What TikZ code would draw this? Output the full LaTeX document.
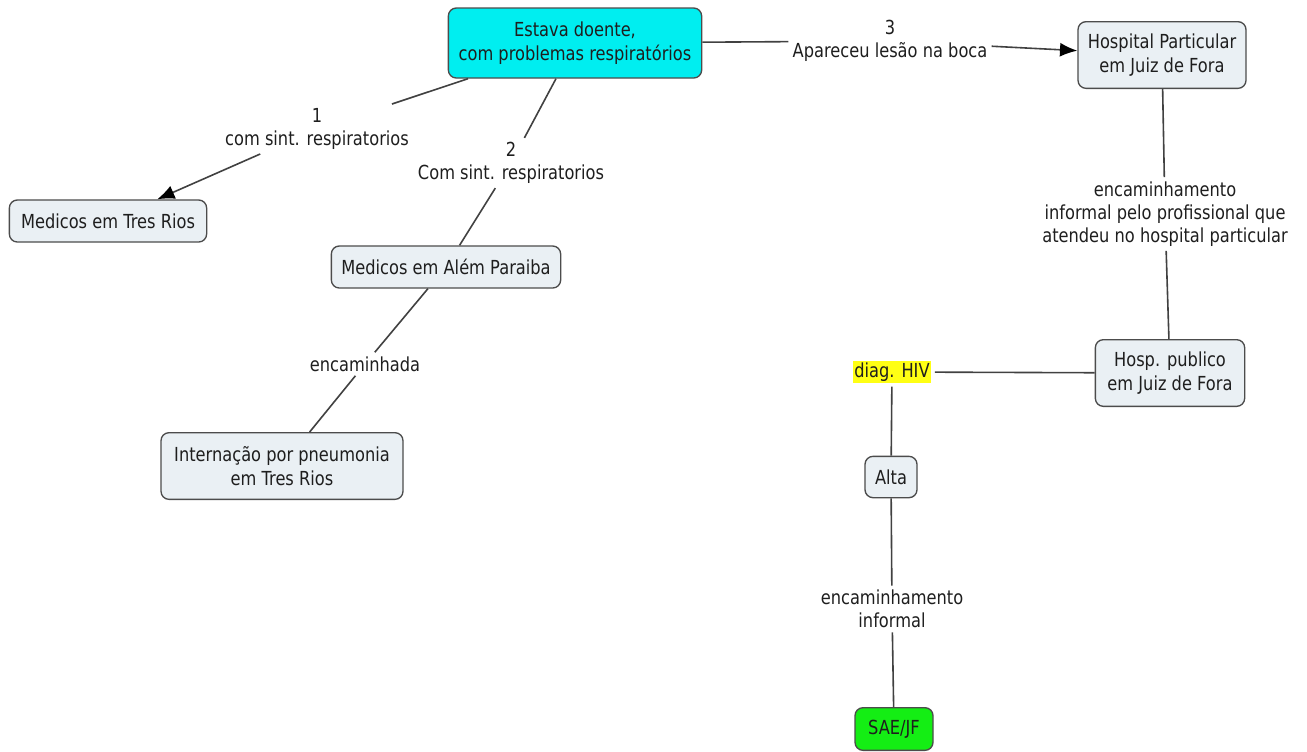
\documentclass[tikz,border=0pt]{standalone}
\usepackage{fontspec}
\setmainfont{DejaVu Sans}[FakeStretch=0.84]
\usetikzlibrary{arrows.meta}
\definecolor{boxfill}{RGB}{234,240,244}
\definecolor{rootfill}{RGB}{0,238,240}
\definecolor{saefill}{RGB}{20,238,20}
\definecolor{hivmark}{RGB}{255,255,20}
\definecolor{linkgray}{RGB}{65,65,65}
\definecolor{ink}{RGB}{30,30,30}

\begin{document}
\begin{tikzpicture}[x=0.75pt,y=-0.75pt,
  font=\fontsize{14.5}{17.5}\selectfont,
  box/.style={draw=black!70, line width=1pt, rounded corners=6pt, fill=boxfill,
    align=center, inner xsep=3pt, inner ysep=3pt, minimum height=31.5pt, text=ink},
  twoline/.style={minimum height=50pt},
  lbl/.style={align=center, inner sep=3pt, text=ink},
  link/.style={draw=linkgray, line width=1.2pt},
  arr/.style={link, -{Latex[length=13pt,width=10.5pt,color=black]}}]

\useasboundingbox (0,0) rectangle (1307,751);

% concept boxes
\node[box, twoline, fill=rootfill, minimum width=190pt, minimum height=52.5pt] (doente) at (575,43)
  {Estava doente,\\com problemas respiratórios};
\node[box, minimum width=148pt] (tresrios) at (108,221) {Medicos em Tres Rios};
\node[box, minimum width=172pt] (alem) at (446,267) {Medicos em Além Paraiba};
\node[box, twoline, minimum width=181.5pt] (intern) at (282,466)
  {Internação por pneumonia\\em Tres Rios};
\node[box, twoline, minimum width=126pt] (hpart) at (1162,55)
  {Hospital Particular\\em Juiz de Fora};
\node[box, twoline, minimum width=112pt] (hpub) at (1170,373)
  {Hosp. publico\\em Juiz de Fora};
\node[fill=hivmark, inner xsep=1pt, inner ysep=1pt, text=ink, outer sep=3pt] (hiv) at (892,372) {diag. HIV};
\node[box, minimum width=39pt, minimum height=31pt] (alta) at (891,477) {Alta};
\node[box, fill=saefill, minimum width=58.5pt, minimum height=32pt] (sae) at (894,729) {SAE/JF};

% linking phrases
\node[lbl] (l1) at (317,129) {1\\com sint. respiratorios};
\node[lbl] (l2) at (511,163) {2\\Com sint. respiratorios};
\node[lbl] (l3) at (890,41) {3\\Apareceu lesão na boca};
\node[lbl] (l4) at (1165,214) {encaminhamento\\informal pelo profissional que\\atendeu no hospital particular};
\node[lbl] (l5) at (365,364) {encaminhada};
\node[lbl] (l6) at (892,609) {encaminhamento\\informal};

% connectors
\draw[link] (doente) -- (l1);
\draw[arr] (l1) -- (tresrios);
\draw[link] (doente) -- (l2);
\draw[link] (l2) -- (alem);
\draw[link] (doente) -- (l3);
\draw[arr] (l3) -- (hpart);
\draw[link] (hpart) -- (l4);
\draw[link] (l4) -- (hpub);
\draw[link] (hpub) -- (hiv);
\draw[link] (hiv) -- (alta);
\draw[link] (alta) -- (l6);
\draw[link] (l6) -- (sae);
\draw[link] (alem) -- (l5);
\draw[link] (l5) -- (intern);
\end{tikzpicture}
\end{document}
